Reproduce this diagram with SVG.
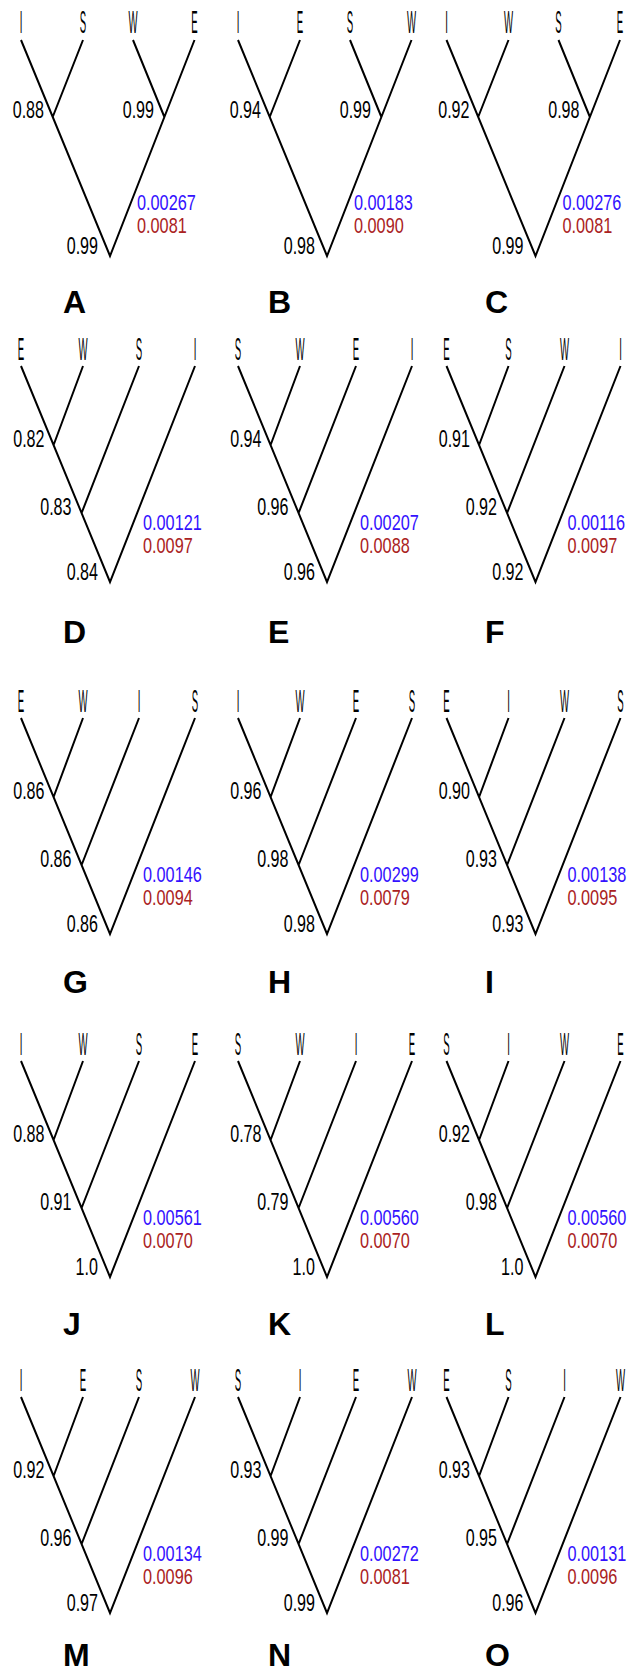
<svg xmlns="http://www.w3.org/2000/svg" width="628" height="1673" viewBox="0 0 628 1673">
<style>
.e{fill:none;stroke:#000;stroke-width:2;stroke-linejoin:miter}
.t{font-family:"Liberation Sans",Arial,sans-serif;font-size:32px;fill:#000;text-anchor:middle}
.n{font-family:"Liberation Sans",Arial,sans-serif;font-size:23px;fill:#000;text-anchor:end}
.b{font-family:"Liberation Sans",Arial,sans-serif;font-size:22px;fill:#3311ff}
.r{font-family:"Liberation Sans",Arial,sans-serif;font-size:22px;fill:#aa2222}
.L{font-family:"Liberation Sans",Arial,sans-serif;font-size:32px;font-weight:bold;fill:#000}
</style>
<rect width="628" height="1673" fill="#fff"/>
<defs>
<path id="bal" d="M-89,0 L0,216 L84.5,0 M-27,0 L-57.3,77 M23,0 L54.4,77"/>
<path id="lad" d="M-89,0 L0,216 L85,0 M-27,0 L-56.4,79 M29,0 L-28.4,147"/>
</defs>

<!-- Row 1 balanced -->
<g id="A" transform="translate(110,40)">
<g class="edges"><use href="#bal" class="e"/></g>
<text class="t" transform="translate(-89,-7) scale(0.3,1)">I</text>
<text class="t" transform="translate(-27,-7) scale(0.3,1)">S</text>
<text class="t" transform="translate(23,-7) scale(0.3,1)">W</text>
<text class="t" transform="translate(84.5,-7) scale(0.3,1)">E</text>
<text class="n" transform="translate(-66,78) scale(0.7,1)">0.88</text>
<text class="n" transform="translate(44,78) scale(0.7,1)">0.99</text>
<text class="n" transform="translate(-12,214) scale(0.7,1)">0.99</text>
<text class="b" transform="translate(27,170) scale(0.74,1)">0.00267</text>
<text class="r" transform="translate(27,193) scale(0.74,1)">0.0081</text>
</g>
<g id="B" transform="translate(327,40)">
<g class="edges"><use href="#bal" class="e"/></g>
<text class="t" transform="translate(-89,-7) scale(0.3,1)">I</text>
<text class="t" transform="translate(-27,-7) scale(0.3,1)">E</text>
<text class="t" transform="translate(23,-7) scale(0.3,1)">S</text>
<text class="t" transform="translate(84.5,-7) scale(0.3,1)">W</text>
<text class="n" transform="translate(-66,78) scale(0.7,1)">0.94</text>
<text class="n" transform="translate(44,78) scale(0.7,1)">0.99</text>
<text class="n" transform="translate(-12,214) scale(0.7,1)">0.98</text>
<text class="b" transform="translate(27,170) scale(0.74,1)">0.00183</text>
<text class="r" transform="translate(27,193) scale(0.74,1)">0.0090</text>
</g>
<g id="C" transform="translate(535.5,40)">
<g class="edges"><use href="#bal" class="e"/></g>
<text class="t" transform="translate(-89,-7) scale(0.3,1)">I</text>
<text class="t" transform="translate(-27,-7) scale(0.3,1)">W</text>
<text class="t" transform="translate(23,-7) scale(0.3,1)">S</text>
<text class="t" transform="translate(84.5,-7) scale(0.3,1)">E</text>
<text class="n" transform="translate(-66,78) scale(0.7,1)">0.92</text>
<text class="n" transform="translate(44,78) scale(0.7,1)">0.98</text>
<text class="n" transform="translate(-12,214) scale(0.7,1)">0.99</text>
<text class="b" transform="translate(27,170) scale(0.74,1)">0.00276</text>
<text class="r" transform="translate(27,193) scale(0.74,1)">0.0081</text>
</g>

<!-- Row 2 -->
<g id="D" transform="translate(110,366)">
<g class="edges"><use href="#lad" class="e"/></g>
<text class="t" transform="translate(-89,-6) scale(0.3,1)">E</text>
<text class="t" transform="translate(-27,-6) scale(0.3,1)">W</text>
<text class="t" transform="translate(29,-6) scale(0.3,1)">S</text>
<text class="t" transform="translate(85,-6) scale(0.3,1)">I</text>
<text class="n" transform="translate(-65.5,81) scale(0.7,1)">0.82</text>
<text class="n" transform="translate(-38.5,149) scale(0.7,1)">0.83</text>
<text class="n" transform="translate(-12,214) scale(0.7,1)">0.84</text>
<text class="b" transform="translate(33,163.5) scale(0.74,1)">0.00121</text>
<text class="r" transform="translate(33,186.5) scale(0.74,1)">0.0097</text>
</g>
<g id="E" transform="translate(327,366)">
<g class="edges"><use href="#lad" class="e"/></g>
<text class="t" transform="translate(-89,-6) scale(0.3,1)">S</text>
<text class="t" transform="translate(-27,-6) scale(0.3,1)">W</text>
<text class="t" transform="translate(29,-6) scale(0.3,1)">E</text>
<text class="t" transform="translate(85,-6) scale(0.3,1)">I</text>
<text class="n" transform="translate(-65.5,81) scale(0.7,1)">0.94</text>
<text class="n" transform="translate(-38.5,149) scale(0.7,1)">0.96</text>
<text class="n" transform="translate(-12,214) scale(0.7,1)">0.96</text>
<text class="b" transform="translate(33,163.5) scale(0.74,1)">0.00207</text>
<text class="r" transform="translate(33,186.5) scale(0.74,1)">0.0088</text>
</g>
<g id="F" transform="translate(535.5,366)">
<g class="edges"><use href="#lad" class="e"/></g>
<text class="t" transform="translate(-89,-6) scale(0.3,1)">E</text>
<text class="t" transform="translate(-27,-6) scale(0.3,1)">S</text>
<text class="t" transform="translate(29,-6) scale(0.3,1)">W</text>
<text class="t" transform="translate(85,-6) scale(0.3,1)">I</text>
<text class="n" transform="translate(-65.5,81) scale(0.7,1)">0.91</text>
<text class="n" transform="translate(-38.5,149) scale(0.7,1)">0.92</text>
<text class="n" transform="translate(-12,214) scale(0.7,1)">0.92</text>
<text class="b" transform="translate(32,163.5) scale(0.74,1)">0.00116</text>
<text class="r" transform="translate(32,186.5) scale(0.74,1)">0.0097</text>
</g>

<!-- Row 3 -->
<g id="G" transform="translate(110,718)">
<g class="edges"><use href="#lad" class="e"/></g>
<text class="t" transform="translate(-89,-6) scale(0.3,1)">E</text>
<text class="t" transform="translate(-27,-6) scale(0.3,1)">W</text>
<text class="t" transform="translate(29,-6) scale(0.3,1)">I</text>
<text class="t" transform="translate(85,-6) scale(0.3,1)">S</text>
<text class="n" transform="translate(-65.5,81) scale(0.7,1)">0.86</text>
<text class="n" transform="translate(-38.5,149) scale(0.7,1)">0.86</text>
<text class="n" transform="translate(-12,214) scale(0.7,1)">0.86</text>
<text class="b" transform="translate(33,163.5) scale(0.74,1)">0.00146</text>
<text class="r" transform="translate(33,186.5) scale(0.74,1)">0.0094</text>
</g>
<g id="H" transform="translate(327,718)">
<g class="edges"><use href="#lad" class="e"/></g>
<text class="t" transform="translate(-89,-6) scale(0.3,1)">I</text>
<text class="t" transform="translate(-27,-6) scale(0.3,1)">W</text>
<text class="t" transform="translate(29,-6) scale(0.3,1)">E</text>
<text class="t" transform="translate(85,-6) scale(0.3,1)">S</text>
<text class="n" transform="translate(-65.5,81) scale(0.7,1)">0.96</text>
<text class="n" transform="translate(-38.5,149) scale(0.7,1)">0.98</text>
<text class="n" transform="translate(-12,214) scale(0.7,1)">0.98</text>
<text class="b" transform="translate(33,163.5) scale(0.74,1)">0.00299</text>
<text class="r" transform="translate(33,186.5) scale(0.74,1)">0.0079</text>
</g>
<g id="I" transform="translate(535.5,718)">
<g class="edges"><use href="#lad" class="e"/></g>
<text class="t" transform="translate(-89,-6) scale(0.3,1)">E</text>
<text class="t" transform="translate(-27,-6) scale(0.3,1)">I</text>
<text class="t" transform="translate(29,-6) scale(0.3,1)">W</text>
<text class="t" transform="translate(85,-6) scale(0.3,1)">S</text>
<text class="n" transform="translate(-65.5,81) scale(0.7,1)">0.90</text>
<text class="n" transform="translate(-38.5,149) scale(0.7,1)">0.93</text>
<text class="n" transform="translate(-12,214) scale(0.7,1)">0.93</text>
<text class="b" transform="translate(32,163.5) scale(0.74,1)">0.00138</text>
<text class="r" transform="translate(32,186.5) scale(0.74,1)">0.0095</text>
</g>

<!-- Row 4 -->
<g id="J" transform="translate(110,1061)">
<g class="edges"><use href="#lad" class="e"/></g>
<text class="t" transform="translate(-89,-6) scale(0.3,1)">I</text>
<text class="t" transform="translate(-27,-6) scale(0.3,1)">W</text>
<text class="t" transform="translate(29,-6) scale(0.3,1)">S</text>
<text class="t" transform="translate(85,-6) scale(0.3,1)">E</text>
<text class="n" transform="translate(-65.5,81) scale(0.7,1)">0.88</text>
<text class="n" transform="translate(-38.5,149) scale(0.7,1)">0.91</text>
<text class="n" transform="translate(-12,214) scale(0.7,1)">1.0</text>
<text class="b" transform="translate(33,163.5) scale(0.74,1)">0.00561</text>
<text class="r" transform="translate(33,186.5) scale(0.74,1)">0.0070</text>
</g>
<g id="K" transform="translate(327,1061)">
<g class="edges"><use href="#lad" class="e"/></g>
<text class="t" transform="translate(-89,-6) scale(0.3,1)">S</text>
<text class="t" transform="translate(-27,-6) scale(0.3,1)">W</text>
<text class="t" transform="translate(29,-6) scale(0.3,1)">I</text>
<text class="t" transform="translate(85,-6) scale(0.3,1)">E</text>
<text class="n" transform="translate(-65.5,81) scale(0.7,1)">0.78</text>
<text class="n" transform="translate(-38.5,149) scale(0.7,1)">0.79</text>
<text class="n" transform="translate(-12,214) scale(0.7,1)">1.0</text>
<text class="b" transform="translate(33,163.5) scale(0.74,1)">0.00560</text>
<text class="r" transform="translate(33,186.5) scale(0.74,1)">0.0070</text>
</g>
<g id="L" transform="translate(535.5,1061)">
<g class="edges"><use href="#lad" class="e"/></g>
<text class="t" transform="translate(-89,-6) scale(0.3,1)">S</text>
<text class="t" transform="translate(-27,-6) scale(0.3,1)">I</text>
<text class="t" transform="translate(29,-6) scale(0.3,1)">W</text>
<text class="t" transform="translate(85,-6) scale(0.3,1)">E</text>
<text class="n" transform="translate(-65.5,81) scale(0.7,1)">0.92</text>
<text class="n" transform="translate(-38.5,149) scale(0.7,1)">0.98</text>
<text class="n" transform="translate(-12,214) scale(0.7,1)">1.0</text>
<text class="b" transform="translate(32,163.5) scale(0.74,1)">0.00560</text>
<text class="r" transform="translate(32,186.5) scale(0.74,1)">0.0070</text>
</g>

<!-- Row 5 -->
<g id="M" transform="translate(110,1397)">
<g class="edges"><use href="#lad" class="e"/></g>
<text class="t" transform="translate(-89,-6) scale(0.3,1)">I</text>
<text class="t" transform="translate(-27,-6) scale(0.3,1)">E</text>
<text class="t" transform="translate(29,-6) scale(0.3,1)">S</text>
<text class="t" transform="translate(85,-6) scale(0.3,1)">W</text>
<text class="n" transform="translate(-65.5,81) scale(0.7,1)">0.92</text>
<text class="n" transform="translate(-38.5,149) scale(0.7,1)">0.96</text>
<text class="n" transform="translate(-12,214) scale(0.7,1)">0.97</text>
<text class="b" transform="translate(33,163.5) scale(0.74,1)">0.00134</text>
<text class="r" transform="translate(33,186.5) scale(0.74,1)">0.0096</text>
</g>
<g id="N" transform="translate(327,1397)">
<g class="edges"><use href="#lad" class="e"/></g>
<text class="t" transform="translate(-89,-6) scale(0.3,1)">S</text>
<text class="t" transform="translate(-27,-6) scale(0.3,1)">I</text>
<text class="t" transform="translate(29,-6) scale(0.3,1)">E</text>
<text class="t" transform="translate(85,-6) scale(0.3,1)">W</text>
<text class="n" transform="translate(-65.5,81) scale(0.7,1)">0.93</text>
<text class="n" transform="translate(-38.5,149) scale(0.7,1)">0.99</text>
<text class="n" transform="translate(-12,214) scale(0.7,1)">0.99</text>
<text class="b" transform="translate(33,163.5) scale(0.74,1)">0.00272</text>
<text class="r" transform="translate(33,186.5) scale(0.74,1)">0.0081</text>
</g>
<g id="O" transform="translate(535.5,1397)">
<g class="edges"><use href="#lad" class="e"/></g>
<text class="t" transform="translate(-89,-6) scale(0.3,1)">E</text>
<text class="t" transform="translate(-27,-6) scale(0.3,1)">S</text>
<text class="t" transform="translate(29,-6) scale(0.3,1)">I</text>
<text class="t" transform="translate(85,-6) scale(0.3,1)">W</text>
<text class="n" transform="translate(-65.5,81) scale(0.7,1)">0.93</text>
<text class="n" transform="translate(-38.5,149) scale(0.7,1)">0.95</text>
<text class="n" transform="translate(-12,214) scale(0.7,1)">0.96</text>
<text class="b" transform="translate(32,163.5) scale(0.74,1)">0.00131</text>
<text class="r" transform="translate(32,186.5) scale(0.74,1)">0.0096</text>
</g>

<!-- Panel letters -->
<g id="letters">
<text class="L" x="63" y="313">A</text>
<text class="L" x="268" y="313">B</text>
<text class="L" x="485" y="313">C</text>
<text class="L" x="63" y="643">D</text>
<text class="L" x="268" y="643">E</text>
<text class="L" x="485" y="643">F</text>
<text class="L" x="63" y="993">G</text>
<text class="L" x="268" y="993">H</text>
<text class="L" x="485" y="993">I</text>
<text class="L" x="63" y="1335">J</text>
<text class="L" x="268" y="1335">K</text>
<text class="L" x="485" y="1335">L</text>
<text class="L" x="63" y="1666">M</text>
<text class="L" x="268" y="1666">N</text>
<text class="L" x="485" y="1666">O</text>
</g>
</svg>
